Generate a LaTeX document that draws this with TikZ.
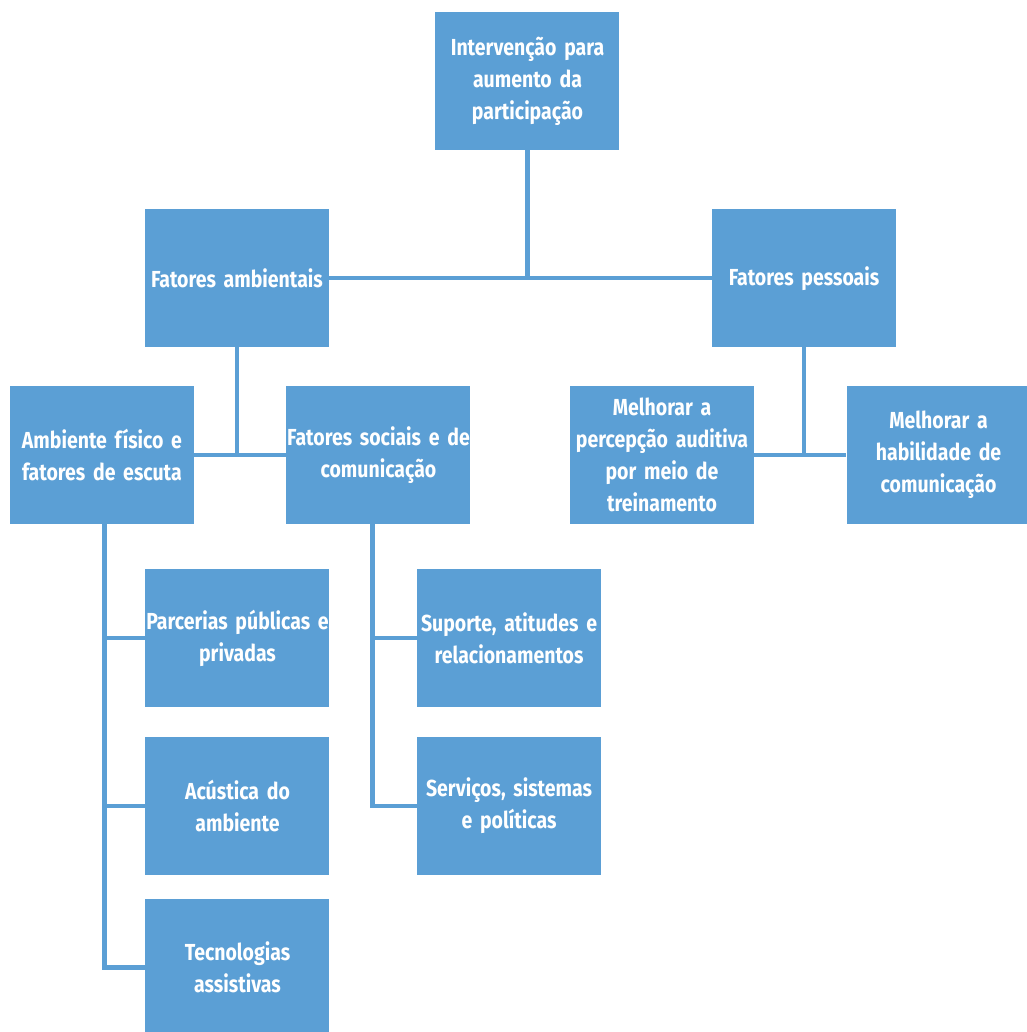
\documentclass[tikz,border=0pt]{standalone}
\usepackage{fontspec}
\setmainfont{Fira Sans}[FakeStretch=0.84]
\usepackage{xcolor}
\definecolor{caixa}{RGB}{91,159,213}
\usetikzlibrary{positioning}

\begin{document}
\begin{tikzpicture}[node distance=22pt, auto,
        block/.style={rectangle, fill=caixa, text=white, text width=138pt, text centered, inner sep=0pt, minimum width=138pt, minimum height=103.5pt, font=\fontsize{17.4}{24}\selectfont\bfseries},
        line/.style={draw, caixa, line width=3.3pt}]

    \useasboundingbox (-395.625pt,60.75pt) rectangle (374.625pt,-713.25pt);

    \node [block] (int) {Intervenção para\\aumento da\\participação};
    \node [block, below left=44pt and 79.5pt of int] (amb) {Fatores ambientais};
    \node [block, below right=44pt and 69pt of int] (pes) {Fatores pessoais};
    \node [block, below=28.5pt of amb, xshift=-101.25pt] (fis) {Ambiente físico e\\fatores de escuta};
    \node [block, right=69pt of fis] (soc) {Fatores sociais e de\\comunicação};
    \node [block, below=28.5pt of pes, xshift=-106.5pt] (per) {Melhorar a\\percepção auditiva\\por meio de\\treinamento};
    \node [block, right=69pt of per] (hab) {Melhorar a\\habilidade de\\comunicação};
    \node [block, below right=33.5pt and -36.75pt of fis] (par) {Parcerias públicas e\\privadas};
    \node [block, below=of par] (acu) {Acústica do\\ambiente};
    \node [block, below=17.5pt of acu] (tec) {Tecnologias\\assistivas};
    \node [block, below right=33.5pt and -40.5pt of soc] (sup) {Suporte, atitudes e\\relacionamentos};
    \node [block, below=of sup] (ser) {Serviços, sistemas\\e políticas};

    \path [line] (int.south) -- (int.south |- amb.east);
    \path [line] (amb.east) -- (pes.west);
    \path [line] (amb.south) -- (amb.south |- fis.east);
    \path [line] (fis.east) -- (soc.west);
    \path [line] (pes.south) -- (pes.south |- per.east);
    \path [line] (per.east) -- (hab.west);

    \coordinate (fisb) at ([xshift=2pt]fis.south);
    \path [line] (fisb) |- (tec.west);
    \path [line] (fisb |- par.west) -- (par.west);
    \path [line] (fisb |- acu.west) -- (acu.west);

    \coordinate (socb) at ([xshift=-4.5pt]soc.south);
    \path [line] (socb) |- (ser.west);
    \path [line] (socb |- sup.west) -- (sup.west);
\end{tikzpicture}
\end{document}
